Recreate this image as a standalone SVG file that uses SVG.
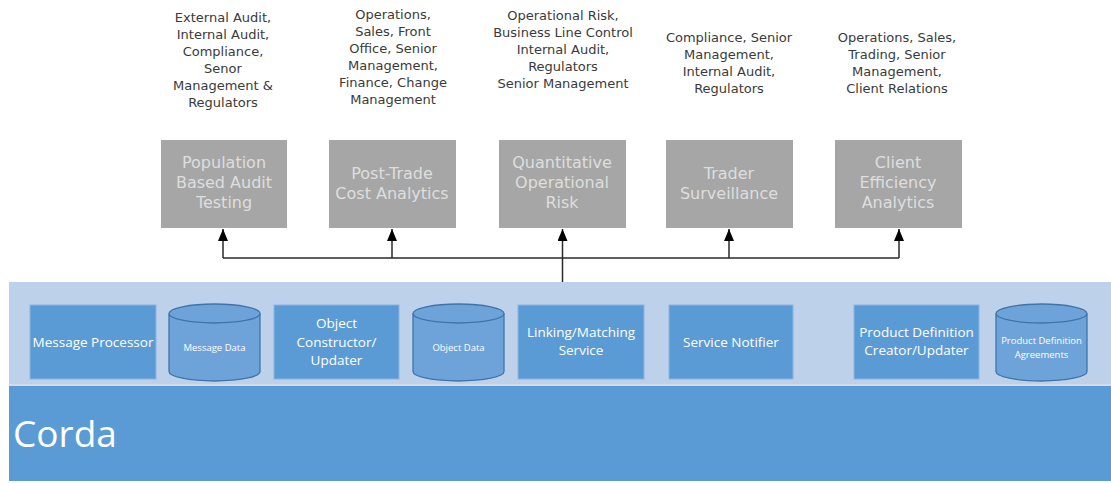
<svg xmlns="http://www.w3.org/2000/svg" width="1111" height="483" viewBox="0 0 1111 483">
<style>
.lbl{font-family:"DejaVu Sans",sans-serif;font-size:13px;fill:#3a3a3a;text-anchor:middle}
.gbox{fill:#a6a6a6}
.gtxt{font-family:"DejaVu Sans",sans-serif;font-size:16px;fill:#dedede;text-anchor:middle}
.bbox{fill:#5b9bd5;stroke:#8ab4e0;stroke-width:1}
.btxt{font-family:"Open Sans",sans-serif;font-size:13.5px;fill:#ffffff;text-anchor:middle}
.cyl{fill:#6ea3da;stroke:#3f74aa;stroke-width:1.3}
.ctxt{font-family:"Open Sans",sans-serif;font-size:9.5px;fill:#ffffff;text-anchor:middle}
.conn{fill:none;stroke:#2a2a2a;stroke-width:1.5}
</style>
<defs>
<marker id="arr" markerWidth="12" markerHeight="10" refX="12" refY="5" orient="auto" markerUnits="userSpaceOnUse" viewBox="0 0 12 10">
<path d="M0,0 L12,5 L0,10 Z" fill="#000"/>
</marker>
</defs>
<rect width="1111" height="483" fill="#ffffff"/>

<g id="labels">
<text class="lbl" x="223" y="22">External Audit,<tspan x="223" dy="17">Internal Audit,</tspan><tspan x="223" dy="17">Compliance,</tspan><tspan x="223" dy="17">Senor</tspan><tspan x="223" dy="17">Management &amp;</tspan><tspan x="223" dy="17">Regulators</tspan></text>
<text class="lbl" x="393" y="19">Operations,<tspan x="393" dy="17">Sales, Front</tspan><tspan x="393" dy="17">Office, Senior</tspan><tspan x="393" dy="17">Management,</tspan><tspan x="393" dy="17">Finance, Change</tspan><tspan x="393" dy="17">Management</tspan></text>
<text class="lbl" x="563" y="20">Operational Risk,<tspan x="563" dy="17">Business Line Control</tspan><tspan x="563" dy="17">Internal Audit,</tspan><tspan x="563" dy="17">Regulators</tspan><tspan x="563" dy="17">Senior Management</tspan></text>
<text class="lbl" x="729" y="42">Compliance, Senior<tspan x="729" dy="17">Management,</tspan><tspan x="729" dy="17">Internal Audit,</tspan><tspan x="729" dy="17">Regulators</tspan></text>
<text class="lbl" x="897" y="42">Operations, Sales,<tspan x="897" dy="17">Trading, Senior</tspan><tspan x="897" dy="17">Management,</tspan><tspan x="897" dy="17">Client Relations</tspan></text>
</g>

<g id="node-population">
<rect class="gbox" x="161" y="140" width="126" height="88"/>
<text class="gtxt" x="224" y="168">Population<tspan x="224" dy="20">Based Audit</tspan><tspan x="224" dy="20">Testing</tspan></text>
</g>
<g id="node-posttrade">
<rect class="gbox" x="329" y="140" width="127" height="88"/>
<text class="gtxt" x="392" y="179">Post-Trade<tspan x="392" dy="20">Cost Analytics</tspan></text>
</g>
<g id="node-qor">
<rect class="gbox" x="499" y="140" width="127" height="88"/>
<text class="gtxt" x="562" y="168">Quantitative<tspan x="562" dy="20">Operational</tspan><tspan x="562" dy="20">Risk</tspan></text>
</g>
<g id="node-trader">
<rect class="gbox" x="666" y="140" width="127" height="88"/>
<text class="gtxt" x="729" y="179">Trader<tspan x="729" dy="20">Surveillance</tspan></text>
</g>
<g id="node-client">
<rect class="gbox" x="835" y="140" width="127" height="88"/>
<text class="gtxt" x="898" y="168">Client<tspan x="898" dy="20">Efficiency</tspan><tspan x="898" dy="20">Analytics</tspan></text>
</g>

<g id="panel">
<rect x="9" y="282" width="1102" height="102" fill="#bdd1ea"/>
<rect x="9" y="384" width="1102" height="2" fill="#d6dbe2"/>
</g>
<g id="node-corda">
<rect x="9" y="386" width="1102" height="95" fill="#5b9bd5"/>
<text x="13" y="447" font-family="Open Sans, sans-serif" font-size="37" fill="#ffffff">Corda</text>
</g>

<g id="node-msgproc">
<rect class="bbox" x="30" y="305" width="126" height="74"/>
<text class="btxt" x="93" y="347">Message Processor</text>
</g>
<g id="node-msgdata">
<path class="cyl" d="M169,313.5 A45.5,9.5 0 0 1 260,313.5 V371.5 A45.5,9.5 0 0 1 169,371.5 Z"/>
<path class="cyl" fill="none" d="M169,313.5 A45.5,9.5 0 0 0 260,313.5"/>
<text class="ctxt" x="214.5" y="351">Message Data</text>
</g>
<g id="node-objcons">
<rect class="bbox" x="274" y="305" width="125" height="74"/>
<text class="btxt" x="336.5" y="328">Object<tspan x="336.5" dy="18.5">Constructor/</tspan><tspan x="336.5" dy="18.5">Updater</tspan></text>
</g>
<g id="node-objdata">
<path class="cyl" d="M413,313.5 A45.5,9.5 0 0 1 504,313.5 V371.5 A45.5,9.5 0 0 1 413,371.5 Z"/>
<path class="cyl" fill="none" d="M413,313.5 A45.5,9.5 0 0 0 504,313.5"/>
<text class="ctxt" x="458.5" y="351">Object Data</text>
</g>
<g id="node-linking">
<rect class="bbox" x="518" y="305" width="126" height="74"/>
<text class="btxt" x="581" y="337">Linking/Matching<tspan x="581" dy="18">Service</tspan></text>
</g>
<g id="node-notifier">
<rect class="bbox" x="669" y="305" width="124" height="74"/>
<text class="btxt" x="731" y="347">Service Notifier</text>
</g>
<g id="node-proddef">
<rect class="bbox" x="854" y="305" width="125" height="74"/>
<text class="btxt" x="916.5" y="337">Product Definition<tspan x="916.5" dy="18">Creator/Updater</tspan></text>
</g>
<g id="node-agreements">
<path class="cyl" d="M996,313.5 A45.5,9.5 0 0 1 1087,313.5 V371.5 A45.5,9.5 0 0 1 996,371.5 Z"/>
<path class="cyl" fill="none" d="M996,313.5 A45.5,9.5 0 0 0 1087,313.5"/>
<text class="ctxt" x="1041.5" y="344">Product Definition<tspan x="1041.5" dy="14">Agreements</tspan></text>
</g>

<g id="connectors">
<line class="conn" x1="223" y1="258" x2="899" y2="258"/>
<line class="conn" x1="562.5" y1="282" x2="562.5" y2="258" stroke-width="2"/>
<line class="conn" x1="223" y1="258" x2="223" y2="229" marker-end="url(#arr)"/>
<line class="conn" x1="392" y1="258" x2="392" y2="229" marker-end="url(#arr)"/>
<line class="conn" x1="562.5" y1="258" x2="562.5" y2="229" marker-end="url(#arr)"/>
<line class="conn" x1="729" y1="258" x2="729" y2="229" marker-end="url(#arr)"/>
<line class="conn" x1="899" y1="258" x2="899" y2="229" marker-end="url(#arr)"/>
</g>
</svg>
